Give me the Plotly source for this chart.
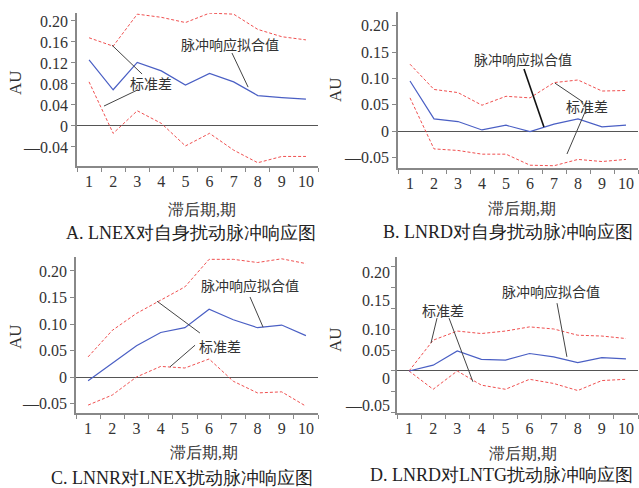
import plotly.graph_objects as go

W, H = 639, 488
FONT = "Liberation Serif"
CJK = "Noto Sans CJK SC"

periods = ["1", "2", "3", "4", "5", "6", "7", "8", "9", "10"]

# Panel A: LNEX response to own shock
a_fit = [0.126, 0.069, 0.121, 0.105, 0.078, 0.100, 0.084, 0.058, 0.054, 0.051]
a_up = [0.168, 0.152, 0.213, 0.207, 0.197, 0.215, 0.213, 0.184, 0.170, 0.164]
a_lo = [0.084, -0.014, 0.029, 0.005, -0.038, -0.014, -0.046, -0.070, -0.058, -0.058]

# Panel B: LNRD response to own shock
b_fit = [0.095, 0.023, 0.018, 0.002, 0.011, -0.001, 0.013, 0.023, 0.008, 0.011]
b_up = [0.127, 0.079, 0.073, 0.049, 0.066, 0.063, 0.092, 0.097, 0.076, 0.077]
b_lo = [0.063, -0.034, -0.037, -0.044, -0.044, -0.065, -0.066, -0.054, -0.058, -0.054]

# Panel C: LNNR response to LNEX shock
c_fit = [-0.007, 0.026, 0.059, 0.084, 0.093, 0.128, 0.108, 0.093, 0.098, 0.078]
c_up = [0.038, 0.088, 0.120, 0.145, 0.170, 0.222, 0.222, 0.216, 0.223, 0.214]
c_lo = [-0.053, -0.034, 0.000, 0.020, 0.017, 0.034, -0.008, -0.030, -0.028, -0.055]

# Panel D: LNRD response to LNTG shock
d_fit = [0.000, 0.014, 0.048, 0.028, 0.026, 0.042, 0.034, 0.020, 0.032, 0.029]
d_up = [0.000, 0.074, 0.096, 0.090, 0.096, 0.106, 0.101, 0.086, 0.084, 0.078]
d_lo = [0.000, -0.044, 0.000, -0.034, -0.044, -0.020, -0.030, -0.047, -0.023, -0.020]

a_ticks = [-0.04, 0, 0.04, 0.08, 0.12, 0.16, 0.20]
a_ticktext = ["\u20140.04", "0", "0.04", "0.08", "0.12", "0.16", "0.20"]
b_ticks = [-0.05, 0, 0.05, 0.10, 0.15, 0.20]
b_ticktext = ["\u20140.05", "0", "0.05", "0.10", "0.15", "0.20"]
d_marks = [-0.10, -0.05, 0, 0.05, 0.10, 0.15, 0.20, 0.25]
d_labelpos = [-0.082, -0.018, 0.050, 0.100, 0.170, 0.236]
d_ticktext = ["\u20140.05", "0", "0.05", "0.10", "0.15", "0.20"]

captions = ["A. LNEX对自身扰动脉冲响应图", "B. LNRD对自身扰动脉冲响应图",
            "C. LNNR对LNEX扰动脉冲响应图", "D. LNRD对LNTG扰动脉冲响应图"]
fit_label = "脉冲响应拟合值"
sd_label = "标准差"
x_title = "滞后期,期"
y_title = "AU"

BLUE = "#4a5fc4"
RED = "#f05050"
TXT = "#333"

# panel pixel boxes: left, right, top, bottom
boxes = [(77, 318, 13, 166), (398, 638, 12, 168), (76, 318, 257, 413), (397, 638, 257, 413)]
yranges = [(-0.0762, 0.2152), (-0.0703, 0.2262), (-0.0679, 0.2264), (-0.101, 0.274)]

fig = go.Figure()
series = [(a_fit, a_up, a_lo), (b_fit, b_up, b_lo), (c_fit, c_up, c_lo), (d_fit, d_up, d_lo)]
for i, (fit, up, lo) in enumerate(series):
    xa = "x" if i == 0 else f"x{i+1}"
    ya = "y" if i == 0 else f"y{i+1}"
    for vals in (up, lo):
        fig.add_trace(go.Scatter(x=periods, y=vals, mode="lines", xaxis=xa, yaxis=ya,
                                 line=dict(color=RED, width=1, dash="3px,2px"), showlegend=False))
    fig.add_trace(go.Scatter(x=periods, y=fit, mode="lines", xaxis=xa, yaxis=ya,
                             line=dict(color=BLUE, width=1.2), showlegend=False))

layout = dict(width=W, height=H, margin=dict(l=0, r=0, t=0, b=0), autosize=False,
              paper_bgcolor="white", plot_bgcolor="white", font=dict(family=FONT, size=16, color=TXT))

for i, (l, r, t, b) in enumerate(boxes):
    xk = "xaxis" if i == 0 else f"xaxis{i+1}"
    yk = "yaxis" if i == 0 else f"yaxis{i+1}"
    ya = "y" if i == 0 else f"y{i+1}"
    xa = "x" if i == 0 else f"x{i+1}"
    layout[xk] = dict(domain=[l / W, r / W], anchor=ya, type="category", range=[-0.5, 9.5],
                      tickson="boundaries", ticks="outside", ticklen=4, tickcolor="#888",
                      showline=True, linecolor="#888", linewidth=1.5, showgrid=False,
                      zeroline=False, ticklabeloverflow="allow", tickangle=0,
                      tickfont=dict(family=FONT, size=16, color=TXT), fixedrange=True)
    ydict = dict(domain=[1 - b / H, 1 - t / H], anchor=xa, range=list(yranges[i]),
                 ticks="outside", ticklen=4, tickcolor="#888", showline=True, linecolor="#888",
                 linewidth=1.5, showgrid=False, zeroline=True, zerolinecolor="#555", zerolinewidth=1,
                 tickfont=dict(family=FONT, size=16, color=TXT))
    if i == 0:
        ydict.update(tickmode="array", tickvals=a_ticks, ticktext=a_ticktext)
    elif i in (1, 2):
        ydict.update(tickmode="array", tickvals=b_ticks, ticktext=b_ticktext)
    else:
        ydict.update(tickmode="array", tickvals=d_marks, showticklabels=False)
    layout[yk] = ydict

# overlay axis carrying panel D's (offset) labels
layout["yaxis5"] = dict(overlaying="y4", anchor="x4", range=list(yranges[3]), side="left",
                        tickmode="array", tickvals=d_labelpos, ticktext=d_ticktext, ticks="",
                        showline=False, showgrid=False, zeroline=False, ticklabelstandoff=6,
                        tickfont=dict(family=FONT, size=16, color=TXT))
fig.add_trace(go.Scatter(x=periods, y=d_fit, xaxis="x4", yaxis="y5", mode="lines",
                         line=dict(width=0, color="rgba(0,0,0,0)"), showlegend=False, hoverinfo="skip"))

fig.update_layout(**layout)

ann = []
xt_pos = [(202, 209), (522, 208), (204, 452), (523, 453)]
au_pos = [(15, 83), (335, 90), (15, 337), (335, 340)]
cap_pos = [(191, 233), (508, 232), (182, 478), (501, 475)]
for i in range(4):
    ann.append(dict(x=xt_pos[i][0] / W, y=1 - xt_pos[i][1] / H, xref="paper", yref="paper",
                    text=x_title, showarrow=False, font=dict(family=FONT, size=16, color=TXT),
                    xanchor="center", yanchor="middle"))
    ann.append(dict(x=au_pos[i][0] / W, y=1 - au_pos[i][1] / H, xref="paper", yref="paper",
                    text=y_title, showarrow=False, textangle=-90,
                    font=dict(family=FONT, size=17, color=TXT), xanchor="center", yanchor="middle"))
    ann.append(dict(x=cap_pos[i][0] / W, y=1 - cap_pos[i][1] / H, xref="paper", yref="paper",
                    text=captions[i], showarrow=False, font=dict(family=FONT, size=18, color="#222"),
                    xanchor="center", yanchor="middle"))

fit_txt = [(5.85, 0.156), (4.71, 0.137), (6.69, 0.174), (5.89, 0.192)]
sd_txt = [(2.57, 0.082), (7.375, 0.0475), (5.45, 0.0585), (1.39, 0.147)]
pointers = [
    [((5.93, 0.139), (6.6, 0.074)), ((0.95, 0.154), (2.2, 0.099)), ((0.62, 0.038), (2.03, 0.069))],
    [((4.75, 0.118), (5.58, 0.0076)), ((6.04, 0.091), (7.21, 0.055)), ((7.33, 0.040), (6.54, -0.0437))],
    [((6.69, 0.151), (7.23, 0.094)), ((2.85, 0.143), (4.62, 0.083)), ((3.38, 0.019), (4.42, 0.060))],
    [((6.14, 0.163), (6.55, 0.034)), ((1.16, 0.127), (0.91, 0.067)), ((1.66, 0.127), (2.65, -0.026))],
]
shapes = []
for i in range(4):
    xa = "x" if i == 0 else f"x{i+1}"
    ya = "y" if i == 0 else f"y{i+1}"
    ann.append(dict(x=fit_txt[i][0], y=fit_txt[i][1], xref=xa, yref=ya, text=fit_label, showarrow=False,
                    font=dict(family=CJK, size=14, color=TXT)))
    ann.append(dict(x=sd_txt[i][0], y=sd_txt[i][1], xref=xa, yref=ya, text=sd_label, showarrow=False,
                    font=dict(family=CJK, size=14, color=TXT)))
    for j, (p0, p1) in enumerate(pointers[i]):
        col = "#111" if (i == 1 and j == 0) else "#444"
        wid = 1.6 if (i == 1 and j == 0) else 1
        shapes.append(dict(type="line", xref=xa, yref=ya, x0=p0[0], y0=p0[1], x1=p1[0], y1=p1[1],
                           line=dict(color=col, width=wid)))

fig.update_layout(annotations=ann, shapes=shapes)
fig.write_html("out.html", config={"displayModeBar": False},
               post_script="document.body.style.margin='0';document.body.style.overflow='hidden';")
